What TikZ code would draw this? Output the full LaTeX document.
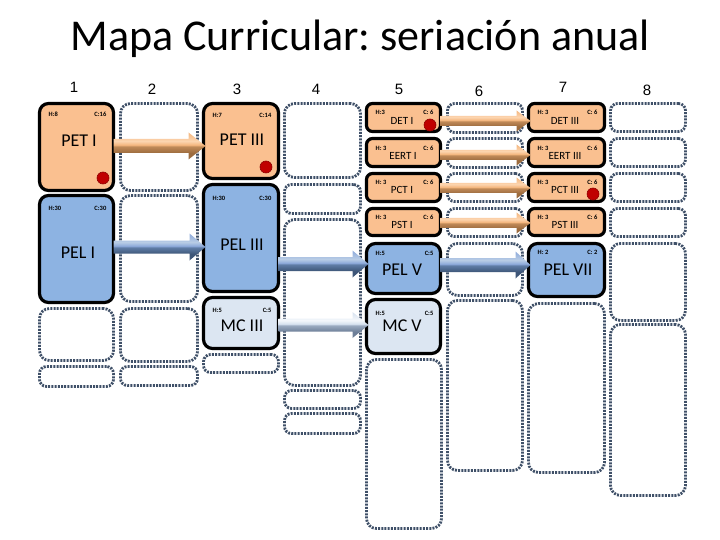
\documentclass[tikz,border=0pt]{standalone}
\usepackage{fontspec}
\setmainfont{Carlito}
\newfontfamily\numfont{Liberation Sans}
\usetikzlibrary{calc}
\definecolor{peach}{HTML}{FAC090}
\definecolor{bluef}{HTML}{8DB3E2}
\definecolor{lightf}{HTML}{DCE6F2}
\definecolor{dotc}{HTML}{3F5068}
\definecolor{redd}{HTML}{C00000}
\definecolor{orT}{HTML}{FCD5B0}
\definecolor{orL}{HTML}{F4B67E}
\definecolor{orD}{HTML}{C08A58}
\definecolor{orDD}{HTML}{9C6B3E}
\definecolor{blT}{HTML}{B9CDE5}
\definecolor{blL}{HTML}{8EAADB}
\definecolor{blD}{HTML}{5F7DA6}
\definecolor{blDD}{HTML}{3E5678}
\definecolor{mcT}{HTML}{F4F7FB}
\definecolor{mcL}{HTML}{D6E1EF}
\definecolor{mcD}{HTML}{9AAAC0}
\definecolor{mcDD}{HTML}{6E7F98}
\pgfdeclareverticalshading{shO}{100bp}{color(0bp)=(orDD); color(37bp)=(orDD); color(49bp)=(orD); color(52bp)=(orL); color(59bp)=(orT); color(75bp)=(orL); color(100bp)=(orL)}
\pgfdeclareverticalshading{shB}{100bp}{color(0bp)=(blDD); color(37bp)=(blDD); color(49bp)=(blD); color(52bp)=(blL); color(59bp)=(blT); color(75bp)=(blL); color(100bp)=(blL)}
\pgfdeclareverticalshading{shM}{100bp}{color(0bp)=(mcDD); color(37bp)=(mcDD); color(49bp)=(mcD); color(52bp)=(mcL); color(59bp)=(mcT); color(75bp)=(mcL); color(100bp)=(mcL)}
\newcommand{\bx}[6]{\node[#6, minimum width={#4-#2-3}, minimum height={#5-#3-3}] (#1) at ({(#2+#4)/2},{(#3+#5)/2}) {};}
\newcommand{\hc}[4]{%
  \node[lbl, anchor=west] (#1-h) at ($(#1.north west)+(9,#4)$) {#2};
  \node[lbl, anchor=east] (#1-c) at ($(#1.north east)+(-7,#4)$) {#3};}
\newcommand{\barrow}[7]{%
  \coordinate (#1-#2-s) at (#1.east |- 0,#3);
  \coordinate (#1-#2-e) at (#2.west |- 0,#3);
  \shade[shading=#4] ($(#1-#2-s)+(0,-#5)$) -- ($(#1-#2-e)+(-#7,-#5)$) -- ($(#1-#2-e)+(-#7,-#6)$) -- ($(#1-#2-e)+(2,0)$) -- ($(#1-#2-e)+(-#7,#6)$) -- ($(#1-#2-e)+(-#7,#5)$) -- ($(#1-#2-s)+(0,#5)$) -- cycle;}
\begin{document}
\frenchspacing
\begin{tikzpicture}[x=1pt,y=-1pt,
  solidb/.style={draw=black, line width=3.2pt, rounded corners=9pt, inner sep=0pt, outer sep=0pt},
  smallb/.style={solidb, rounded corners=6pt},
  dots/.style={draw=dotc, line width=2.8pt, dash pattern=on 2pt off 1.2pt, rounded corners=10pt, inner sep=0pt, outer sep=0pt},
  sdots/.style={dots, rounded corners=7pt},
  lbl/.style={font=\fontsize{6.5}{7}\selectfont\bfseries, inner sep=0pt},
  bigt/.style={font=\fontsize{18}{20}\selectfont, inner sep=0pt},
  medt/.style={font=\fontsize{11}{12}\selectfont, inner sep=0pt},
  num/.style={font=\numfont\fontsize{15}{16}\selectfont, anchor=base, inner sep=0pt},
  dot/.style={circle, fill=redd, draw=redd!75!black, line width=0.6pt, minimum size=12pt, inner sep=0pt}]
\useasboundingbox (0,0) rectangle (720,540);
\node[font=\fontsize{44}{48}\selectfont, anchor=base, inner sep=0pt] (title) at (360,51) {Mapa Curricular: seriación anual};
\node[num] (n1) at (74,93) {1};
\node[num] (n2) at (152,95) {2};
\node[num] (n3) at (237,95) {3};
\node[num] (n4) at (316,95) {4};
\node[num] (n5) at (399,95) {5};
\node[num] (n6) at (479,97) {6};
\node[num] (n7) at (563,93) {7};
\node[num] (n8) at (647,96) {8};
% column 1
\bx{pet1}{38}{102}{115}{192}{solidb, fill=peach}
\bx{pel1}{38}{194}{115}{304}{solidb, fill=bluef}
\bx{d1a}{38}{307}{115}{362}{dots}
\bx{d1b}{38}{365}{115}{388}{sdots}
% column 2
\bx{d2a}{119}{102}{199}{192}{dots}
\bx{d2b}{119}{194}{199}{303}{dots}
\bx{d2c}{119}{307}{199}{363}{dots}
\bx{d2d}{119}{365}{199}{387}{sdots}
% column 3
\bx{pet3}{202}{102}{280}{180}{solidb, fill=peach}
\bx{pel3}{202}{183}{280}{293}{solidb, fill=bluef}
\bx{mc3}{202}{296}{280}{350}{solidb, fill=lightf}
\bx{d3a}{202}{353}{280}{374}{sdots}
% column 4
\bx{d4a}{283}{102}{362}{179}{dots}
\bx{d4b}{283}{183}{362}{215}{sdots}
\bx{d4c}{283}{218}{362}{387}{dots}
\bx{d4d}{283}{389}{362}{410}{sdots}
\bx{d4e}{283}{412}{362}{435}{sdots}
% column 5
\bx{det1}{365}{102}{442}{133}{smallb, fill=peach}
\bx{eert1}{365}{137}{442}{168}{smallb, fill=peach}
\bx{pct1}{365}{172}{442}{203}{smallb, fill=peach}
\bx{pst1}{365}{207}{442}{237}{smallb, fill=peach}
\bx{pel5}{365}{242}{442}{295}{solidb, fill=bluef}
\bx{mc5}{365}{298}{442}{355}{solidb, fill=lightf}
\bx{d5a}{365}{358}{443}{530}{dots}
% column 6
\bx{d6a}{446}{102}{524}{134}{sdots}
\bx{d6b}{446}{137}{524}{169}{sdots}
\bx{d6c}{446}{172}{524}{203}{sdots}
\bx{d6d}{446}{207}{524}{238}{sdots}
\bx{d6e}{446}{242}{524}{297}{dots}
\bx{d6f}{446}{299}{524}{472}{dots}
% column 7
\bx{det3}{527}{102}{606}{133}{smallb, fill=peach}
\bx{eert3}{527}{137}{606}{168}{smallb, fill=peach}
\bx{pct3}{527}{172}{606}{203}{smallb, fill=peach}
\bx{pst3}{527}{207}{606}{237}{smallb, fill=peach}
\bx{pel7}{527}{242}{606}{298}{solidb, fill=bluef}
\bx{d7a}{527}{302}{606}{474}{dots}
% column 8
\bx{d8a}{609}{102}{687}{133}{sdots}
\bx{d8b}{609}{137}{687}{168}{sdots}
\bx{d8c}{609}{172}{687}{203}{sdots}
\bx{d8d}{609}{207}{687}{238}{sdots}
\bx{d8e}{609}{242}{687}{322}{dots}
\bx{d8f}{609}{323}{687}{497}{dots}
% H / C labels
\hc{pet1}{H:8}{C:16}{11}
\hc{pel1}{H:30}{C:30}{13}
\hc{pet3}{H:7}{C:14}{12}
\hc{pel3}{H:30}{C:30}{14}
\hc{mc3}{H:5}{C:5}{13}
\hc{det1}{H:3}{C: 6}{9}
\hc{eert1}{H: 3}{C: 6}{10}
\hc{pct1}{H: 3}{C: 6}{9}
\hc{pst1}{H: 3}{C: 6}{9}
\hc{pel5}{H:5}{C:5}{10}
\hc{mc5}{H:5}{C:5}{14}
\hc{det3}{H: 3}{C: 6}{9}
\hc{eert3}{H: 3}{C: 6}{10}
\hc{pct3}{H: 3}{C: 6}{9}
\hc{pst3}{H: 3}{C: 6}{9}
\hc{pel7}{H: 2}{C: 2}{9}
% main labels
\node[bigt] (pet1-t) at (79,141) {PET I};
\node[bigt] (pel1-t) at (78,253) {PEL I};
\node[bigt] (pet3-t) at (242,140) {PET III};
\node[bigt] (pel3-t) at (242,245) {PEL III};
\node[bigt] (mc3-t) at (242,326) {MC III};
\node[medt] (det1-t) at (402,121) {DET I};
\node[medt] (eert1-t) at (403,156) {EERT I};
\node[medt] (pct1-t) at (402,190) {PCT I};
\node[medt] (pst1-t) at (402,225) {PST I};
\node[bigt] (pel5-t) at (402,270) {PEL V};
\node[bigt] (mc5-t) at (402,326) {MC V};
\node[medt] (det3-t) at (565,121) {DET III};
\node[medt] (eert3-t) at (565,156) {EERT III};
\node[medt] (pct3-t) at (565,190) {PCT III};
\node[medt] (pst3-t) at (565,225) {PST III};
\node[bigt] (pel7-t) at (568,270) {PEL VII};
% red dots
\node[dot] (dot1) at (103,178) {};
\node[dot] (dot2) at (266,167) {};
\node[dot] (dot3) at (430,125) {};
\node[dot] (dot4) at (593,194) {};
% arrows
\barrow{pet1}{pet3}{146}{shO}{7}{13.5}{15}
\barrow{pel1}{pel3}{247}{shB}{6.5}{13.5}{14}
\barrow{pel3}{pel5}{264}{shB}{7}{13.5}{14}
\barrow{mc3}{mc5}{325}{shM}{6.5}{13}{14}
\barrow{det1}{det3}{121}{shO}{5}{10.5}{12}
\barrow{eert1}{eert3}{155}{shO}{5}{10.5}{12}
\barrow{pct1}{pct3}{188}{shO}{5}{10.5}{12}
\barrow{pst1}{pst3}{223}{shO}{5}{10.5}{12}
\barrow{pel5}{pel7}{265}{shB}{7}{13.5}{13}
\end{tikzpicture}
\end{document}
